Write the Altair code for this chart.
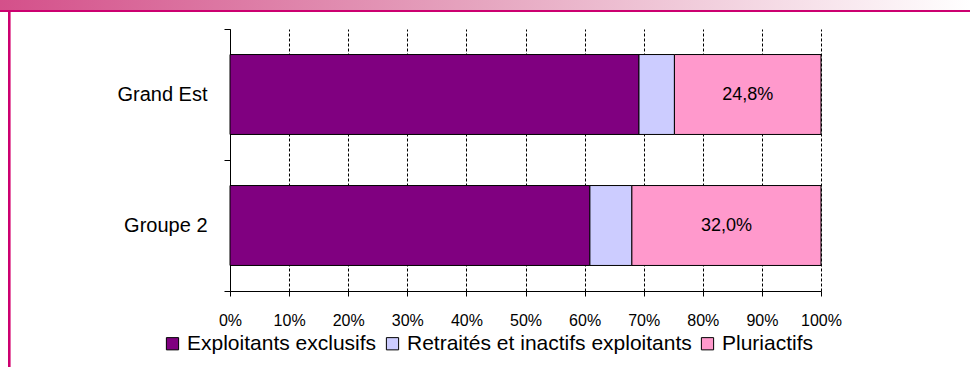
import altair as alt
import pandas as pd

groups = ["Grand Est", "Groupe 2"]
categories = ["Exploitants exclusifs", "Retraités et inactifs exploitants", "Pluriactifs"]
exclusifs = [69.2, 60.9]
retraites = [6.0, 7.1]
pluriactifs = [24.8, 32.0]
x_ticks = [0, 10, 20, 30, 40, 50, 60, 70, 80, 90, 100]
colors = ["#800080", "#ccccff", "#ff99cc"]

rows = []
for i, g in enumerate(groups):
    start = 0.0
    for c, v in zip(categories, [exclusifs[i], retraites[i], pluriactifs[i]]):
        rows.append({"groupe": g, "cat": c, "value": v, "start": start, "end": start + v,
                     "order": categories.index(c),
                     "label": ("%.1f" % v).replace(".", ",") + "%"})
        start += v
df = pd.DataFrame(rows)

FONT = "Liberation Sans"

y_enc = alt.Y("groupe:N", sort=groups, title=None,
              scale=alt.Scale(paddingInner=0, paddingOuter=0),
              axis=alt.Axis(tickBand="extent", tickSize=6, tickColor="#000", domainColor="#000",
                            labelFont=FONT, labelFontSize=20, labelColor="#000",
                            labelPadding=17, grid=False))

x_enc = alt.X("start:Q", title=None,
              scale=alt.Scale(domain=[0, 100], nice=False),
              axis=alt.Axis(values=x_ticks, labelExpr="datum.value + '%'",
                            tickSize=5, tickColor="#000", domainColor="#000",
                            labelFont=FONT, labelFontSize=16, labelColor="#000",
                            labelPadding=16, labelFlush=False, grid=True, gridColor="#000",
                            gridDash=[3, 2], gridWidth=1))

bars = alt.Chart(df).mark_bar(stroke="#000", strokeWidth=1, height={"band": 0.61}).encode(
    x=x_enc,
    x2="end:Q",
    y=y_enc,
    color=alt.Color("cat:N", sort=categories,
                    scale=alt.Scale(domain=categories, range=colors),
                    legend=alt.Legend(title=None, orient="none", direction="horizontal",
                                      legendX=-68, legendY=304, symbolType="square",
                                      symbolSize=150, symbolStrokeColor="#000",
                                      symbolStrokeWidth=1, labelFont=FONT,
                                      labelFontSize=21, labelColor="#000", labelLimit=0,
                                      columnPadding=5, labelOffset=4)),
    order=alt.Order("order:Q"),
)

labels = alt.Chart(df).transform_filter(
    alt.datum.cat == "Pluriactifs"
).transform_calculate(
    mid="(datum.start + datum.end) / 2"
).mark_text(font=FONT, fontSize=18, color="#000").encode(
    x="mid:Q",
    y=alt.Y("groupe:N", sort=groups),
    text="label:N",
)

deco = alt.Data(values=[{"k": 1}])
band = alt.Chart(deco).mark_rect(
    color=alt.Gradient(gradient="linear",
                       stops=[alt.GradientStop(color="#d4508a", offset=0),
                              alt.GradientStop(color="#e6a6c0", offset=0.5),
                              alt.GradientStop(color="#ffffff", offset=1)],
                       x1=0, x2=1, y1=0, y2=0)
).encode(x=alt.value(-230), x2=alt.value(740), y=alt.value(-29), y2=alt.value(-19))
topline = alt.Chart(deco).mark_rect(color="#cc0070").encode(
    x=alt.value(-230), x2=alt.value(740), y=alt.value(-19), y2=alt.value(-17))
leftline = alt.Chart(deco).mark_rect(color="#cc0070").encode(
    x=alt.value(-222), x2=alt.value(-220), y=alt.value(-17), y2=alt.value(338))
leftline2 = alt.Chart(deco).mark_rect(color="#e668a8").encode(
    x=alt.value(-220), x2=alt.value(-219), y=alt.value(-17), y2=alt.value(338))

chart = alt.layer(bars, labels, band, topline, leftline, leftline2).properties(
    width=591, height=262,
    padding={"left": 230, "top": 29, "right": 149, "bottom": 76},
    autosize=alt.AutoSizeParams(type="none"),
    background="#ffffff",
).configure_view(stroke=None)

chart.save("out.html", embed_options={"renderer": "svg", "actions": False})
